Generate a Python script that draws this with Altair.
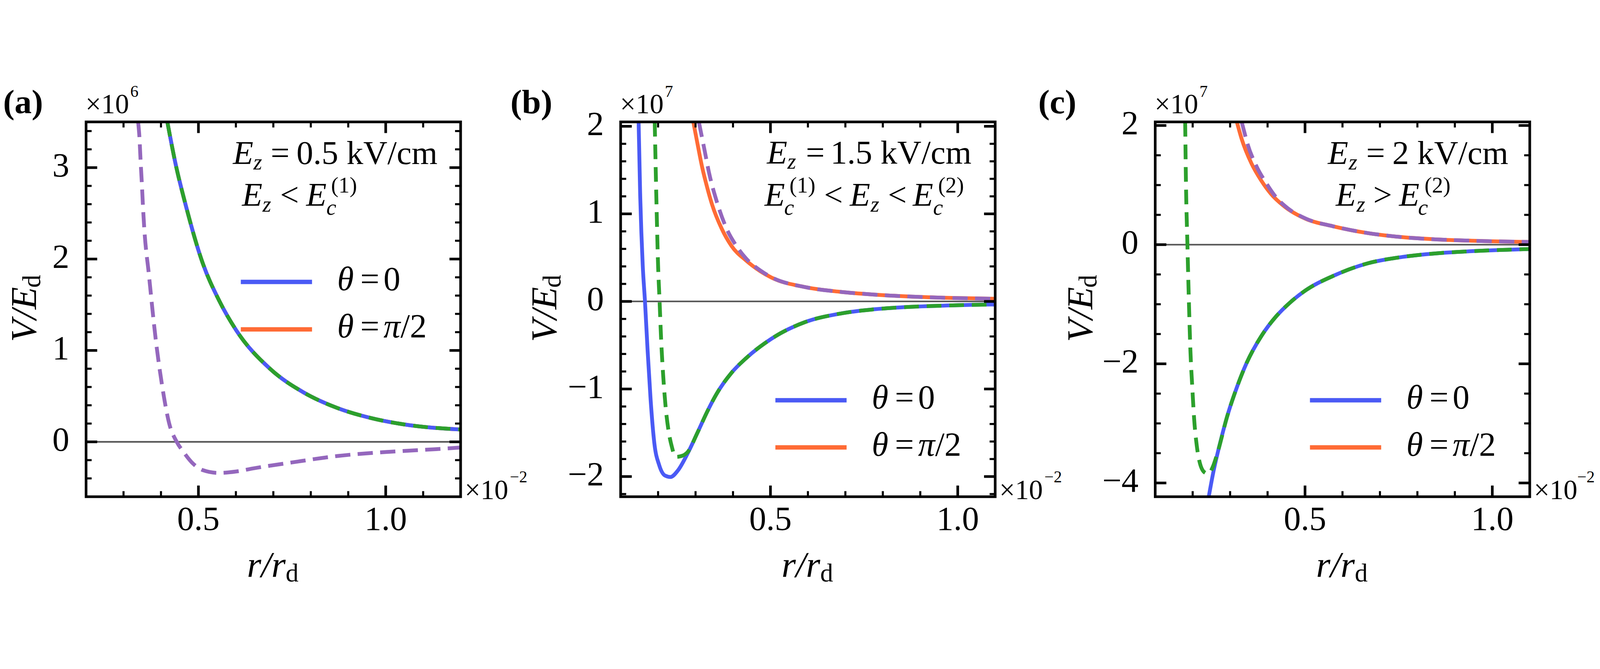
import altair as alt
import pandas as pd

FONT = "Liberation Serif"
W, H = 1278, 1279          # each panel's frame
CW, CH = 5438, 1697        # whole drawing area (page minus 8px margins)
OY = 123                   # top of the frames
OX = [283, 2107, 3931]     # left of the three frames
BLUE = "#4a5af5"
ORANGE = "#ff6b35"
GREEN = "#2ca02c"
PURPLE = "#9467bd"
ZERO = "#555555"

# ---------------- data (r/r_d in 1e-2, V/E_d in 1e6 for (a), 1e7 for (b),(c)) ----------------
# panel (a): theta=0, theta=pi/2 and the green approximation coincide
A_R_EXACT = [0.417, 0.439, 0.466, 0.511, 0.556, 0.601, 0.691, 0.781, 0.871, 0.961, 1.05, 1.2]
A_V_EXACT = [3.50, 3.04, 2.59, 1.96, 1.54, 1.22, 0.80, 0.54, 0.37, 0.26, 0.19, 0.135]
A_R_PURPLE = [0.339, 0.3425, 0.3455, 0.349, 0.352, 0.355, 0.368, 0.386, 0.404, 0.422, 0.442,
              0.46, 0.486, 0.512, 0.554, 0.6, 0.647, 0.75, 0.871, 1.01, 1.072, 1.134, 1.2]
A_V_PURPLE = [3.5, 3.33, 3.08, 2.82, 2.57, 2.36, 1.82, 1.12, 0.59, 0.20, 0.0,
              -0.11, -0.24, -0.31, -0.34, -0.325, -0.29, -0.225, -0.155, -0.109, -0.094, -0.08, -0.062]

# panel (b)
B_R_BLUE = [0.148, 0.152, 0.159, 0.165, 0.172, 0.180, 0.190, 0.203, 0.219, 0.233, 0.253, 0.279,
            0.305, 0.331, 0.357, 0.396, 0.435, 0.503, 0.592, 0.685, 0.777, 0.869, 0.961, 1.1]
B_V_BLUE = [2.05, 1.25, 0.41, 0.0, -0.56, -1.12, -1.62, -1.87, -1.99, -2.005, -1.93, -1.735,
            -1.50, -1.26, -1.05, -0.815, -0.648, -0.425, -0.237, -0.14, -0.09, -0.063, -0.048, -0.035]
B_R_GREEN = [0.191, 0.195, 0.200, 0.204, 0.208, 0.2135, 0.220, 0.228, 0.237, 0.2465, 0.263, 0.279,
             0.305, 0.331, 0.357, 0.396, 0.435, 0.503, 0.592, 0.685, 0.777, 0.869, 0.961, 1.1]
B_V_GREEN = [2.05, 1.25, 0.41, 0.0, -0.425, -0.84, -1.20, -1.48, -1.665, -1.776, -1.765, -1.72,
             -1.50, -1.26, -1.05, -0.815, -0.648, -0.425, -0.237, -0.14, -0.09, -0.063, -0.048, -0.035]
B_R_ORANGE = [0.294, 0.305, 0.318, 0.331, 0.344, 0.370, 0.396, 0.435, 0.474, 0.503, 0.592, 0.685,
              0.777, 0.869, 0.961, 1.1]
B_V_ORANGE = [2.05, 1.805, 1.526, 1.303, 1.108, 0.829, 0.634, 0.467, 0.342, 0.272, 0.164, 0.11,
              0.078, 0.056, 0.042, 0.03]
B_R_PURPLE = [0.309, 0.3126, 0.323, 0.336, 0.357, 0.383, 0.409, 0.435, 0.474, 0.503, 0.592, 0.685,
              0.777, 0.869, 0.961, 1.1]
B_V_PURPLE = [2.05, 1.97, 1.75, 1.47, 1.136, 0.83, 0.634, 0.49, 0.35, 0.275, 0.164, 0.11,
              0.078, 0.056, 0.042, 0.03]

# panel (c)
C_R_BLUE = [0.243, 0.255, 0.273, 0.292, 0.318, 0.344, 0.383, 0.422, 0.461, 0.503, 0.574, 0.667,
            0.759, 0.852, 0.944, 1.1]
C_V_BLUE = [-4.23, -3.824, -3.335, -2.886, -2.395, -1.987, -1.538, -1.21, -0.966, -0.761, -0.528, -0.314,
            -0.207, -0.145, -0.11, -0.073]
C_R_GREEN = [0.180, 0.182, 0.186, 0.190, 0.194, 0.199, 0.204, 0.211, 0.219, 0.232, 0.242, 0.253, 0.266,
             0.292, 0.318, 0.344, 0.383, 0.422, 0.461, 0.503, 0.574, 0.667, 0.759, 0.852, 0.944, 1.1]
C_V_GREEN = [2.06, 1.077, 0.0, -0.966, -1.78, -2.395, -2.93, -3.376, -3.66, -3.824, -3.846, -3.74, -3.50,
             -2.886, -2.395, -1.987, -1.538, -1.21, -0.966, -0.761, -0.528, -0.314, -0.207, -0.145, -0.11, -0.073]
C_R_ORANGE = [0.318, 0.331, 0.357, 0.383, 0.409, 0.448, 0.503, 0.574, 0.667, 0.759, 0.852, 0.944, 1.1]
C_V_ORANGE = [2.06, 1.771, 1.363, 1.077, 0.853, 0.627, 0.431, 0.31, 0.195, 0.126, 0.088, 0.066, 0.045]
C_R_PURPLE = [0.331, 0.336, 0.3465, 0.370, 0.396, 0.422, 0.448, 0.503, 0.574, 0.667, 0.759, 0.852, 0.944, 1.1]
C_V_PURPLE = [2.06, 1.936, 1.69, 1.32, 1.036, 0.80, 0.64, 0.435, 0.31, 0.195, 0.126, 0.088, 0.066, 0.045]

# axis ranges, ticks and tick labels
A_XDOM, A_YDOM = [0.2, 1.2], [-0.6, 3.5]
B_XDOM, B_YDOM = [0.1, 1.1], [-2.23, 2.05]
C_XDOM, C_YDOM = [0.1, 1.1], [-4.23, 2.06]
X_MAJOR = [0.5, 1.0]
X_LABELS = ["0.5", "1.0"]
A_X_MINOR = [0.3, 0.4, 0.6, 0.7, 0.8, 0.9, 1.1]
BC_X_MINOR = [0.2, 0.3, 0.4, 0.6, 0.7, 0.8, 0.9]
A_Y_MAJOR = [0, 1, 2, 3]
A_Y_LABELS = ["0", "1", "2", "3"]
A_Y_MINOR = [-0.4, -0.2, 0.2, 0.4, 0.6, 0.8, 1.2, 1.4, 1.6, 1.8, 2.2, 2.4, 2.6, 2.8, 3.2, 3.4]
B_Y_MAJOR = [-2, -1, 0, 1, 2]
B_Y_LABELS = ["\u22122", "\u22121", "0", "1", "2"]
B_Y_MINOR = [-2.2, -1.8, -1.6, -1.4, -1.2, -0.8, -0.6, -0.4, -0.2, 0.2, 0.4, 0.6, 0.8,
             1.2, 1.4, 1.6, 1.8]
C_Y_MAJOR = [-4, -2, 0, 2]
C_Y_LABELS = ["\u22124", "\u22122", "0", "2"]
C_Y_MINOR = [-3.5, -3.0, -2.5, -1.5, -1.0, -0.5, 0.5, 1.0, 1.5]

ONE = pd.DataFrame({"k": [0]})


def txt(s, x, y, size, style="normal", weight="normal", angle=0):
    return alt.Chart(ONE).mark_text(
        text=s, font=FONT, fontSize=size, fontStyle=style, fontWeight=weight,
        align="left", baseline="alphabetic", angle=angle, color="black"
    ).encode(x=alt.value(x), y=alt.value(y))


def panel(ox, xdom, ydom, xmin, ymaj, ylab, ymin, curves, label, label_x, exp, ytitle_x,
          legend_y, ann, exp2_x=1446):
    def X(f):
        return alt.X(f, type="quantitative", axis=None,
                     scale=alt.Scale(domain=xdom, range=[ox, ox + W], nice=False, zero=False))

    def Y(f):
        return alt.Y(f, type="quantitative", axis=None,
                     scale=alt.Scale(domain=ydom, range=[OY + H, OY], nice=False, zero=False))

    def T(s, x, y, size, style="normal", weight="normal", angle=0):
        return txt(s, ox + x, OY + y, size, style, weight, angle)

    layers = [alt.Chart(pd.DataFrame({"z": [0.0]})).mark_rule(color=ZERO, strokeWidth=5.5)
              .encode(y=Y("z"), x=alt.value(ox), x2=alt.value(ox + W))]
    for r, v, color, dash in curves:
        kw = dict(color=color, strokeWidth=13, interpolate="monotone", strokeCap="butt")
        if dash:
            kw["strokeDash"] = dash
        layers.append(alt.Chart(pd.DataFrame({"r": r, "v": v})).mark_line(**kw)
                      .encode(x=X("r"), y=Y("v")))
    # inward ticks on all four sides
    for vals, ln, sw in [(X_MAJOR, 38, 9), (xmin, 19, 7)]:
        d = pd.DataFrame({"t": vals})
        layers.append(alt.Chart(d).mark_rule(color="black", strokeWidth=sw)
                      .encode(x=X("t"), y=alt.value(OY + H), y2=alt.value(OY + H - ln)))
        layers.append(alt.Chart(d).mark_rule(color="black", strokeWidth=sw)
                      .encode(x=X("t"), y=alt.value(OY), y2=alt.value(OY + ln)))
    for vals, ln, sw in [(ymaj, 38, 9), (ymin, 19, 7)]:
        d = pd.DataFrame({"t": vals})
        layers.append(alt.Chart(d).mark_rule(color="black", strokeWidth=sw)
                      .encode(y=Y("t"), x=alt.value(ox), x2=alt.value(ox + ln)))
        layers.append(alt.Chart(d).mark_rule(color="black", strokeWidth=sw)
                      .encode(y=Y("t"), x=alt.value(ox + W), x2=alt.value(ox + W - ln)))
    # frame
    layers.append(alt.Chart(ONE).mark_rect(filled=False, stroke="black", strokeWidth=9)
                  .encode(x=alt.value(ox), x2=alt.value(ox + W), y=alt.value(OY), y2=alt.value(OY + H)))
    # tick labels
    layers.append(alt.Chart(pd.DataFrame({"t": X_MAJOR, "s": X_LABELS}))
                  .mark_text(font=FONT, fontSize=116, align="center", baseline="top", color="black")
                  .encode(x=X("t"), y=alt.value(OY + H + 21), text="s:N"))
    layers.append(alt.Chart(pd.DataFrame({"t": ymaj, "s": ylab}))
                  .mark_text(font=FONT, fontSize=116, align="right", baseline="middle", dy=-5, color="black")
                  .encode(y=Y("t"), x=alt.value(ox - 57), text="s:N"))
    # legend
    y1, y2 = legend_y
    for yy, col in [(y1, BLUE), (y2, ORANGE)]:
        layers.append(alt.Chart(ONE).mark_rule(color=col, strokeWidth=15)
                      .encode(x=alt.value(ox + 528), x2=alt.value(ox + 771), y=alt.value(OY + yy)))
    layers += [
        T("θ", 857, y1 + 28, 115, "italic"), T("=", 936, y1 + 28, 115), T("0", 1015, y1 + 28, 115),
        T("θ", 857, y2 + 28, 115, "italic"), T("=", 936, y2 + 28, 115),
        T("π", 1015, y2 + 28, 115, "italic"), T("/2", 1073, y2 + 28, 115),
    ]
    # labels, multipliers, axis titles
    layers += [
        T(label, label_x, -29, 117, weight="bold"),
        T("×10", -2, -29, 95), T(exp, 151, -86, 56),
        T("×10", 1292, 1287, 95), T("\u22122", exp2_x, 1230, 56),
        T("r/r", 549, 1553, 125, "italic"), T("d", 681, 1568, 88),
        T("V/E", ytitle_x, 751, 125, "italic", angle=270),
        T("d", ytitle_x + 15, 566, 88, angle=270),
    ]
    for s, x, y, size, style in ann:
        layers.append(T(s, x, y, size, style))
    return layers


M, S = 114, 76
SUB_C, SUP = 317, 241
ANN_A = [("E", 501, 144, M, "italic"), ("z", 571, 162, S, "italic"), ("=", 630, 144, M, "normal"),
         ("0.5 kV/cm", 718, 144, M, "normal"),
         ("E", 532, 286, M, "italic"), ("z", 602, 306, S, "italic"), ("<", 662, 286, M, "normal"),
         ("E", 751, 286, M, "italic"), ("c", 820, SUB_C, S, "italic"), ("(1)", 836, SUP, S, "normal")]
ANN_B = [("E", 499, 142, M, "italic"), ("z", 569, 160, S, "italic"), ("=", 632, 142, M, "normal"),
         ("1.5 kV/cm", 716, 142, M, "normal"),
         ("E", 491, 286, M, "italic"), ("c", 558, SUB_C, S, "italic"), ("(1)", 576, SUP, S, "normal"),
         ("<", 694, 286, M, "normal"), ("E", 782, 286, M, "italic"), ("z", 853, 306, S, "italic"),
         ("<", 912, 286, M, "normal"), ("E", 997, 286, M, "italic"), ("c", 1066, SUB_C, S, "italic"),
         ("(2)", 1083, SUP, S, "normal")]
ANN_C = [("E", 589, 144, M, "italic"), ("z", 660, 162, S, "italic"), ("=", 720, 144, M, "normal"),
         ("2 kV/cm", 809, 144, M, "normal"),
         ("E", 616, 286, M, "italic"), ("z", 687, 306, S, "italic"), (">", 744, 286, M, "normal"),
         ("E", 832, 286, M, "italic"), ("c", 897, SUB_C, S, "italic"), ("(2)", 919, SUP, S, "normal")]

layers = []
layers += panel(OX[0], A_XDOM, A_YDOM, A_X_MINOR, A_Y_MAJOR, A_Y_LABELS, A_Y_MINOR,
                [(A_R_EXACT, A_V_EXACT, ORANGE, None), (A_R_EXACT, A_V_EXACT, BLUE, None),
                 (A_R_PURPLE, A_V_PURPLE, PURPLE, [52, 25]), (A_R_EXACT, A_V_EXACT, GREEN, [50, 27])],
                "(a)", -283, "6", -171, (546, 708), ANN_A)
layers += panel(OX[1], B_XDOM, B_YDOM, BC_X_MINOR, B_Y_MAJOR, B_Y_LABELS, B_Y_MINOR,
                [(B_R_ORANGE, B_V_ORANGE, ORANGE, None), (B_R_BLUE, B_V_BLUE, BLUE, None),
                 (B_R_PURPLE, B_V_PURPLE, PURPLE, [52, 25]), (B_R_GREEN, B_V_GREEN, GREEN, [50, 27])],
                "(b)", -376, "7", -220, (950, 1111), ANN_B)
layers += panel(OX[2], C_XDOM, C_YDOM, BC_X_MINOR, C_Y_MAJOR, C_Y_LABELS, C_Y_MINOR,
                [(C_R_ORANGE, C_V_ORANGE, ORANGE, None), (C_R_BLUE, C_V_BLUE, BLUE, None),
                 (C_R_PURPLE, C_V_PURPLE, PURPLE, [52, 25]), (C_R_GREEN, C_V_GREEN, GREEN, [50, 27])],
                "(c)", -399, "7", -215, (950, 1111), ANN_C, exp2_x=1440)

chart = alt.layer(*layers).resolve_scale(x="independent", y="independent").properties(
    width=CW, height=CH, padding=0, autosize=alt.AutoSizeParams(type="none")
).configure_view(stroke="transparent")

chart.save("out.html", embed_options={"renderer": "svg", "actions": False})
